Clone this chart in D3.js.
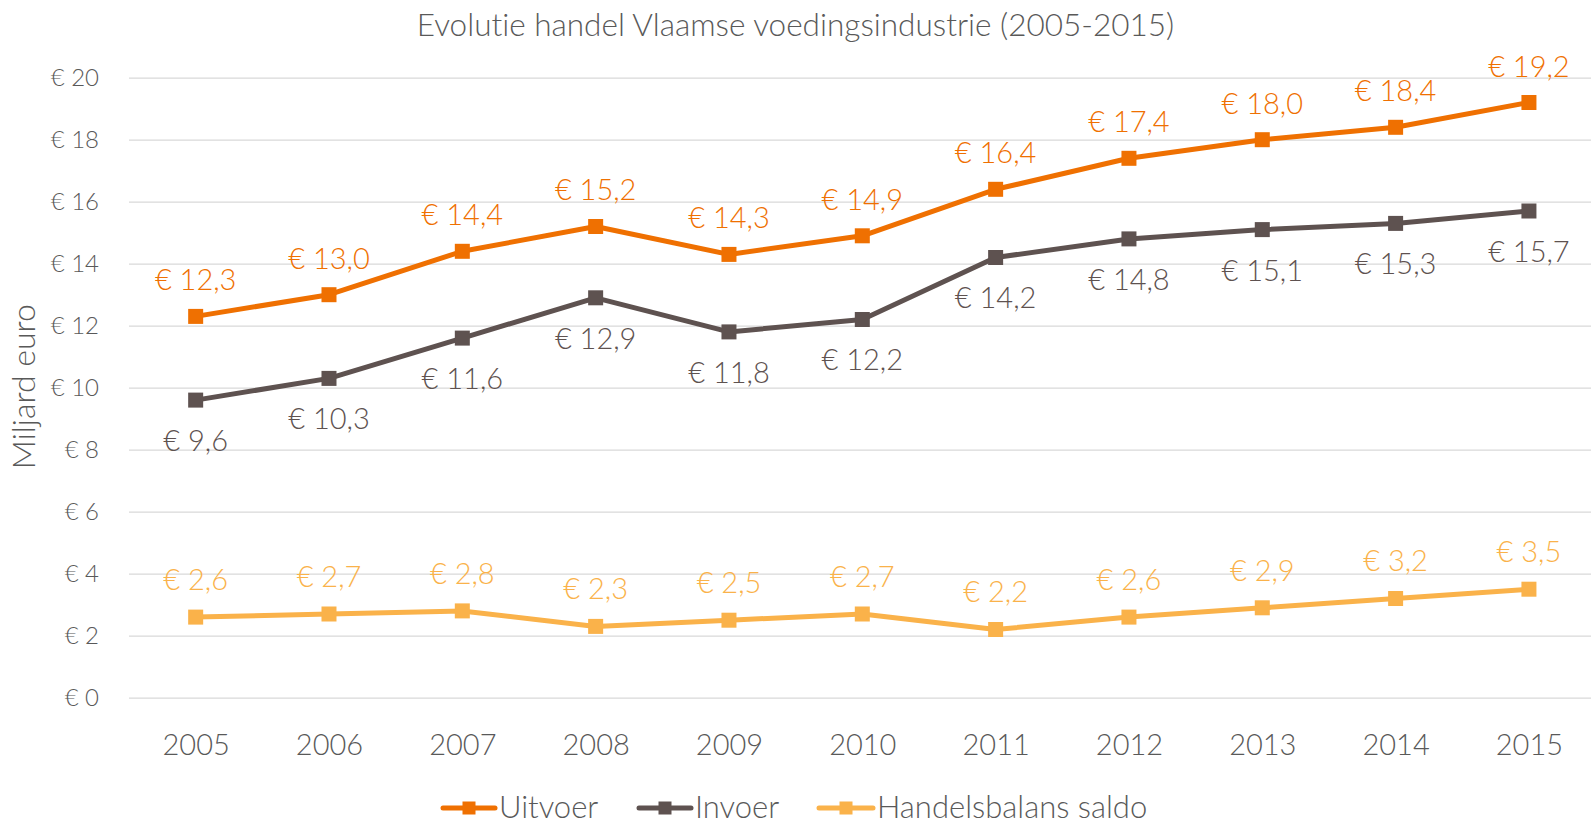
<!DOCTYPE html>
<html>
<head>
<meta charset="utf-8">
<script src="https://cdn.jsdelivr.net/npm/d3@7"></script>
<style>
  body { margin: 0; background: #fff; }
  text { font-family: "Segoe UI Light", "Lato", "Open Sans", sans-serif; font-weight: 300; font-variant-ligatures: none; }
</style>
</head>
<body>
<div id="chart"></div>
<script>
// Data
const years = ['2005', '2006', '2007', '2008', '2009', '2010', '2011', '2012', '2013', '2014', '2015'];
const uitvoer = [12.3, 13.0, 14.4, 15.2, 14.3, 14.9, 16.4, 17.4, 18.0, 18.4, 19.2];
const invoer = [9.6, 10.3, 11.6, 12.9, 11.8, 12.2, 14.2, 14.8, 15.1, 15.3, 15.7];
const saldo = [2.6, 2.7, 2.8, 2.3, 2.5, 2.7, 2.2, 2.6, 2.9, 3.2, 3.5];
const yTicks = [0, 2, 4, 6, 8, 10, 12, 14, 16, 18, 20];
const seriesNames = ['Uitvoer', 'Invoer', 'Handelsbalans saldo'];

// Sizes
let svgWidth = 1591;
let svgHeight = 824;
let margins = { top: 77.7, bottom: 126.3, left: 129, right: -4.6 };
let chartHeight = svgHeight - margins.top - margins.bottom;
let chartWidth = svgWidth - margins.left - margins.right;

let svg = d3.select('#chart').append('svg')
    .attr('width', svgWidth)
    .attr('height', svgHeight);
let chart = svg.append('g')
    .attr('transform', `translate(${margins.left}, ${margins.top})`);

// Scales
let xScale = d3.scalePoint().domain(years).range([0, chartWidth]).padding(0.5);
let yScale = d3.scaleLinear().domain([0, 20]).range([chartHeight, 0]);

// Y axis with gridlines
let yAxis = chart.append('g')
    .call(d3.axisLeft(yScale).tickValues(yTicks).tickSize(-chartWidth).tickPadding(30)
        .tickFormat(d => '€ ' + d));
yAxis.select('.domain').remove();
yAxis.selectAll('line').attr('stroke', '#d9d9d9').attr('stroke-width', 1.3);
yAxis.selectAll('text').attr('fill', '#595959').style('font-size', '24px');

// X axis
let xAxis = chart.append('g')
    .attr('transform', `translate(0, ${chartHeight})`)
    .call(d3.axisBottom(xScale).tickSize(0).tickPadding(37));
xAxis.select('.domain').remove();
xAxis.selectAll('text').attr('fill', '#595959').style('font-size', '29px');

// Series
let series = [
    { name: seriesNames[0], values: uitvoer, color: '#ef7001', labelDy: -26 },
    { name: seriesNames[1], values: invoer, color: '#5e5250', labelDy: 51 },
    { name: seriesNames[2], values: saldo, color: '#fab24a', labelDy: -27 }
];

let line = d3.line()
    .x((d, i) => xScale(years[i]))
    .y(d => yScale(d));

series.forEach(s => {
    chart.append('path')
        .datum(s.values)
        .attr('fill', 'none')
        .attr('stroke', s.color)
        .attr('stroke-width', 5)
        .attr('stroke-linejoin', 'round')
        .attr('d', line);

    chart.selectAll(null)
        .data(s.values).enter()
        .append('rect')
        .attr('x', (d, i) => xScale(years[i]) - 7.5)
        .attr('y', d => yScale(d) - 7.5)
        .attr('width', 15)
        .attr('height', 15)
        .attr('fill', s.color);

    chart.selectAll(null)
        .data(s.values).enter()
        .append('text')
        .attr('x', (d, i) => xScale(years[i]))
        .attr('y', d => yScale(d) + s.labelDy)
        .attr('text-anchor', 'middle')
        .attr('fill', s.color)
        .style('font-size', '29px')
        .text(d => '€ ' + d.toFixed(1).replace('.', ','));
});

// Title
svg.append('text')
    .attr('x', svgWidth / 2)
    .attr('y', 36)
    .attr('text-anchor', 'middle')
    .attr('fill', '#595959')
    .style('font-size', '31.5px')
    .text('Evolutie handel Vlaamse voedingsindustrie (2005-2015)');

// Y label
svg.append('text')
    .attr('transform', `translate(35, ${margins.top + chartHeight / 2 - 1}) rotate(-90)`)
    .attr('text-anchor', 'middle')
    .attr('fill', '#595959')
    .style('font-size', '32px')
    .text('Miljard euro');

// Legend
let legendX = [441, 637, 817];
let legendW = [56, 56, 58];
let legend = svg.append('g').attr('transform', 'translate(0, 808)');
series.forEach((s, i) => {
    let g = legend.append('g').attr('transform', `translate(${legendX[i]}, 0)`);
    g.append('line')
        .attr('x1', 2).attr('x2', legendW[i] - 2)
        .attr('stroke', s.color).attr('stroke-width', 5).attr('stroke-linecap', 'round');
    g.append('rect')
        .attr('x', legendW[i] / 2 - 6.5).attr('y', -6.5).attr('width', 13).attr('height', 13)
        .attr('fill', s.color);
    g.append('text')
        .attr('x', legendW[i] + 2).attr('y', 10)
        .attr('fill', '#595959')
        .style('font-size', '31px')
        .text(s.name);
});
</script>
</body>
</html>
